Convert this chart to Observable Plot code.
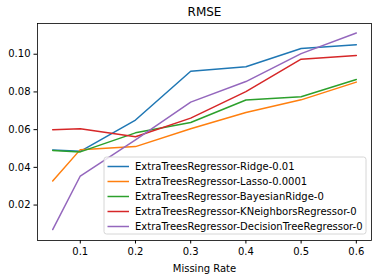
<!DOCTYPE html>
<html><head><meta charset="utf-8">
<script src="https://cdn.jsdelivr.net/npm/d3@7"></script>
<script src="https://cdn.jsdelivr.net/npm/@observablehq/plot@0.6"></script>
<style>
body{margin:0;background:#fff}
svg{font-family:"DejaVu Sans",sans-serif}
</style>
</head><body><div id="chart"></div>
<script>
const missingRates = [0.05, 0.1, 0.2, 0.3, 0.4, 0.5, 0.6];
const seriesNames = [
  "ExtraTreesRegressor-Ridge-0.01",
  "ExtraTreesRegressor-Lasso-0.0001",
  "ExtraTreesRegressor-BayesianRidge-0",
  "ExtraTreesRegressor-KNeighborsRegressor-0",
  "ExtraTreesRegressor-DecisionTreeRegressor-0"
];
const ridge         = [0.0492, 0.0485, 0.0651, 0.0910, 0.0934, 0.1030, 0.1050];
const lasso         = [0.0328, 0.0494, 0.0510, 0.0605, 0.0691, 0.0758, 0.0852];
const bayesianRidge = [0.0490, 0.0482, 0.0583, 0.0638, 0.0757, 0.0774, 0.0866];
const kneighbors    = [0.0600, 0.0605, 0.0562, 0.0661, 0.0802, 0.0974, 0.0993];
const decisionTree  = [0.0070, 0.0354, 0.0546, 0.0746, 0.0855, 0.1003, 0.1113];
const yTicks = [0.02, 0.04, 0.06, 0.08, 0.10];
const xTicks = [0.1, 0.2, 0.3, 0.4, 0.5, 0.6];
const colors = ["#1f77b4", "#ff7f0e", "#2ca02c", "#d62728", "#9467bd"];

const allValues = [ridge, lasso, bayesianRidge, kneighbors, decisionTree];
const data = seriesNames.flatMap((name, i) =>
  missingRates.map((x, j) => ({series: name, x, y: allValues[i][j]})));

function legendMark(index, scales, values, dims) {
  const g = d3.create("svg:g").attr("text-anchor", "start");
  const right = dims.width - dims.marginRight;
  const bottom = dims.height - dims.marginBottom;
  const w = 262, h = 77;
  const x0 = right - 5 - w, y0 = bottom - 6 - h;
  g.append("rect").attr("x", x0).attr("y", y0).attr("width", w).attr("height", h)
    .attr("rx", 2.5).attr("fill", "white").attr("fill-opacity", 0.8).attr("stroke", "#cccccc").attr("stroke-width", 0.8);
  seriesNames.forEach((n, i) => {
    const yy = y0 + 9.5 + i * 15;
    g.append("line").attr("x1", x0 + 3.5).attr("x2", x0 + 25).attr("y1", yy).attr("y2", yy)
      .attr("stroke", colors[i]).attr("stroke-width", 1.5);
    g.append("text").attr("x", x0 + 31).attr("y", yy).attr("dy", "0.35em")
      .attr("text-anchor", "start").attr("font-size", 10).attr("fill", "black").text(n);
  });
  return g.node();
}

const chart = Plot.plot({
  width: 378,
  height: 278,
  marginLeft: 37,
  marginRight: 7,
  marginTop: 23,
  marginBottom: 38,
  style: {fontFamily: "DejaVu Sans", fontSize: "10px", background: "white", color: "black"},
  x: {domain: [0.0225, 0.6275], label: null},
  y: {domain: [0.0012, 0.1163], label: null},
  color: {domain: seriesNames, range: colors},
  marks: [
    Plot.axisX({ticks: xTicks, tickSize: 3.5, tickPadding: 3.5, tickFormat: d3.format(".1f"), fontSize: 10, label: null}),
    Plot.axisY({ticks: yTicks, tickSize: 3.5, tickPadding: 3.5, tickFormat: d3.format(".2f"), fontSize: 10, label: null}),
    Plot.line(data, {x: "x", y: "y", z: "series", stroke: "series", strokeWidth: 1.5}),
    Plot.frame({stroke: "black", strokeWidth: 0.8}),
    legendMark,
    Plot.text(["RMSE"], {frameAnchor: "top", dy: -11, fontSize: 12, lineAnchor: "middle", fill: "black"}),
    Plot.text(["Missing Rate"], {frameAnchor: "bottom", dy: 28, fontSize: 10, lineAnchor: "middle", fill: "black"})
  ]
});
document.getElementById("chart").appendChild(chart);
</script>
</body></html>
